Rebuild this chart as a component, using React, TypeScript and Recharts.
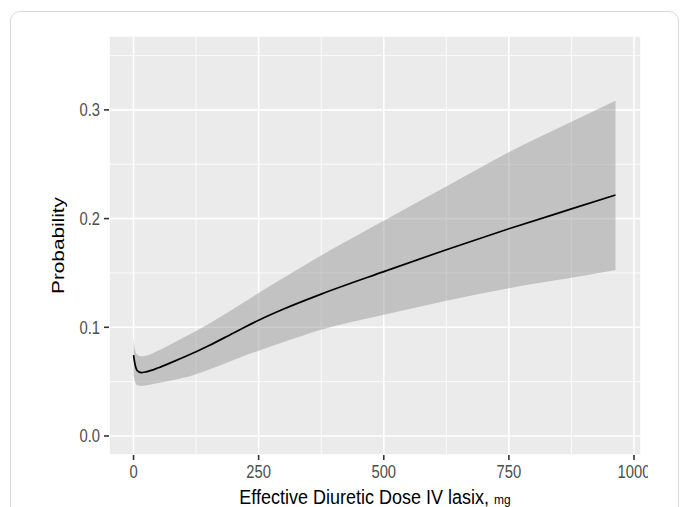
import { ComposedChart, Area, Line, XAxis, YAxis, CartesianGrid, Label } from "recharts";

// dose (mg) sampled along the smooth
const doses = [0, 3, 8, 15, 25, 50, 75, 100, 125, 150, 200, 250, 300, 375, 500, 625, 750, 875, 963];
const fit = [0.0745, 0.066, 0.0598, 0.0583, 0.059, 0.0628, 0.0675, 0.0724, 0.0775, 0.083, 0.0948, 0.1065, 0.1168, 0.1305, 0.1512, 0.1714, 0.1906, 0.2089, 0.2217];
const upper = [0.09, 0.079, 0.0745, 0.0733, 0.0738, 0.0787, 0.0845, 0.0905, 0.0965, 0.103, 0.117, 0.1315, 0.1455, 0.166, 0.198, 0.2295, 0.261, 0.289, 0.3085];
const lower = [0.056, 0.05, 0.0466, 0.046, 0.0465, 0.0488, 0.051, 0.0535, 0.0568, 0.061, 0.07, 0.0785, 0.0865, 0.0978, 0.1115, 0.1245, 0.136, 0.1455, 0.1527];

const xTicks = [0, 250, 500, 750, 1000];
const xMinor = [125, 375, 625, 875];
const yTicks = [0, 0.1, 0.2, 0.3];
const yMinor = [0.05, 0.15, 0.25, 0.35];

const data = doses.map((d, i) => ({ dose: d, fit: fit[i], band: [lower[i], upper[i]] }));

const FONT = "'Liberation Sans', Arial, Helvetica, sans-serif";
const STRETCH = 1.2;

function XTick({ x, y, payload }: any) {
  return (
    <g transform={`translate(${x},${y}) scale(1,${STRETCH})`}>
      <text textAnchor="middle" y={13.75} fontSize={14.8} fill="#4d4d4d" fontFamily={FONT}>
        {payload.value}
      </text>
    </g>
  );
}

function YTick({ x, y, payload }: any) {
  return (
    <g transform={`translate(${x},${y}) scale(1,${STRETCH})`}>
      <text textAnchor="end" y={5.3} fontSize={14.8} fill="#4d4d4d" fontFamily={FONT}>
        {Number(payload.value).toFixed(1)}
      </text>
    </g>
  );
}

const renderYLabel = (props: any) => {
  const vb = props.viewBox || { x: 0, y: 36, width: 109, height: 419 };
  const cy = vb.y + vb.height / 2;
  return (
    <g transform={`translate(63.5,${cy}) scale(1,${STRETCH}) rotate(-90)`}>
      <text textAnchor="middle" fontSize={17.3} fill="#000" fontFamily={FONT}>
        Probability
      </text>
    </g>
  );
};

const renderXLabel = (props: any) => {
  const vb = props.viewBox || { x: 109, y: 455, width: 532, height: 52 };
  const cx = vb.x + vb.width / 2;
  return (
    <g transform={`translate(${cx},504) scale(1,1.12)`}>
      <text textAnchor="middle" fontSize={18} fill="#000" fontFamily={FONT}>
        Effective Diuretic Dose IV lasix, <tspan fontSize={12}>mg</tspan>
      </text>
    </g>
  );
};

export default function App() {
  return (
    <div style={{ position: "absolute", left: 0, top: 0, width: 683, height: 507, overflow: "hidden", background: "#fff" }}>
      <div
        style={{
          position: "absolute",
          left: 10,
          top: 11,
          width: 669,
          height: 530,
          border: "1.5px solid #d9d9d9",
          borderRadius: 10,
          boxSizing: "border-box",
        }}
      />
      <div style={{ position: "absolute", left: 0, top: 0, width: 648, height: 507, overflow: "hidden" }}>
        <ComposedChart width={660} height={507} data={data} margin={{ top: 36, right: 19, bottom: 0, left: 0 }}>
          {/* major grid with panel background, then the thinner minor grid */}
          <CartesianGrid stroke="#ffffff" strokeWidth={1.6} fill="#EBEBEB" fillOpacity={1} />
          <CartesianGrid stroke="#ffffff" strokeWidth={0.8} horizontalValues={yMinor} verticalValues={xMinor} />
          <XAxis
            dataKey="dose"
            type="number"
            domain={[-49, 1014]}
            allowDataOverflow
            ticks={xTicks}
            interval={0}
            axisLine={false}
            tickLine={{ stroke: "#333", strokeWidth: 1.6 }}
            tickSize={5}
            tickMargin={2}
            height={52}
            tick={<XTick />}
          >
            <Label content={renderXLabel} />
          </XAxis>
          <YAxis
            type="number"
            domain={[-0.0175, 0.368]}
            allowDataOverflow
            ticks={yTicks}
            interval={0}
            axisLine={false}
            tickLine={{ stroke: "#333", strokeWidth: 1.6 }}
            tickSize={5}
            tickMargin={4}
            width={109}
            tick={<YTick />}
          >
            <Label content={renderYLabel} />
          </YAxis>
          <Area
            dataKey="band"
            type="monotone"
            fill="#999999"
            fillOpacity={0.5}
            stroke="none"
            isAnimationActive={false}
            activeDot={false}
          />
          <Line
            dataKey="fit"
            type="monotone"
            stroke="#000"
            strokeWidth={1.7}
            dot={false}
            activeDot={false}
            isAnimationActive={false}
          />
        </ComposedChart>
      </div>
    </div>
  );
}
